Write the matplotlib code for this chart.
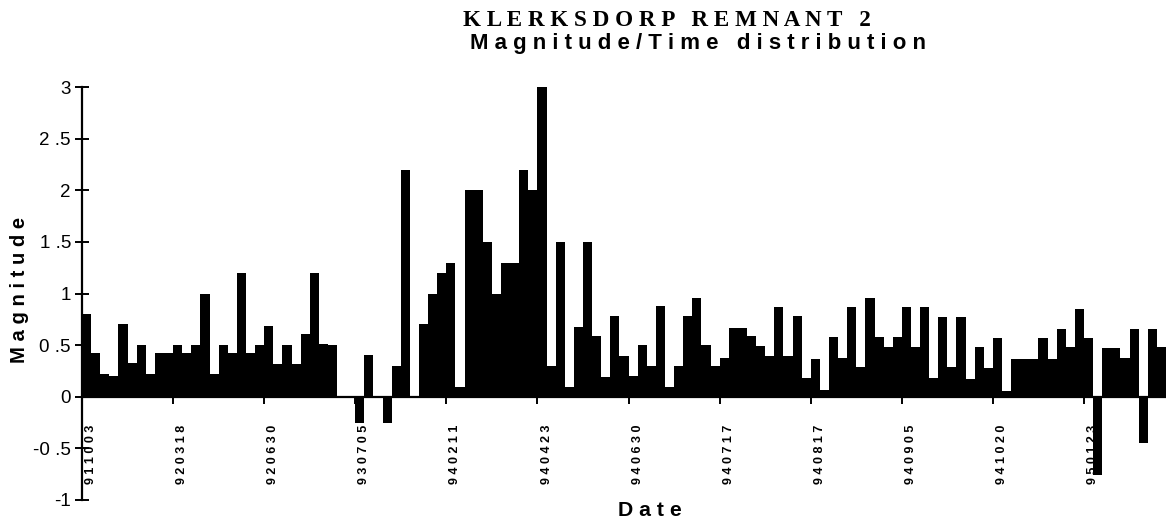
import matplotlib
matplotlib.use('Agg')
import matplotlib.pyplot as plt
import numpy as np

# ---- data ----
magnitudes = [
    0.80, 0.42, 0.22, 0.20, 0.70, 0.33, 0.50, 0.22, 0.42, 0.42,   # 0-9
    0.50, 0.42, 0.50, 1.00, 0.22, 0.50, 0.42, 1.20, 0.42, 0.50,   # 10-19
    0.69, 0.32, 0.50, 0.32, 0.61, 1.20, 0.51, 0.50, 0.00, 0.00,   # 20-29
    -0.25, 0.40, 0.00, -0.25, 0.30, 2.20, 0.00, 0.70, 1.00, 1.20, # 30-39
    1.30, 0.09, 2.00, 2.00, 1.50, 1.00, 1.30, 1.30, 2.20, 2.00,   # 40-49
    3.00, 0.30, 1.50, 0.09, 0.68, 1.50, 0.59, 0.19, 0.78, 0.39,   # 50-59
    0.20, 0.50, 0.30, 0.88, 0.09, 0.30, 0.78, 0.96, 0.50, 0.30,   # 60-69
    0.38, 0.67, 0.67, 0.59, 0.49, 0.39, 0.87, 0.39, 0.78, 0.18,   # 70-79
    0.37, 0.07, 0.58, 0.38, 0.87, 0.29, 0.96, 0.58, 0.48, 0.58,   # 80-89
    0.87, 0.48, 0.87, 0.18, 0.77, 0.29, 0.77, 0.17, 0.48, 0.28,   # 90-99
    0.57, 0.06, 0.37, 0.37, 0.37, 0.57, 0.37, 0.66, 0.48, 0.85,   # 100-109
    0.57, -0.76, 0.47, 0.47, 0.38, 0.66, -0.45, 0.66, 0.48,       # 110-118
]
tick_dates = ['911003', '920318', '920630', '930705', '940211', '940423',
              '940630', '940717', '940817', '940905', '941020', '950123']
tick_every = 10
y_ticks = [-1, -0.5, 0, 0.5, 1, 1.5, 2, 2.5, 3]

title1 = 'KLERKSDORP REMNANT 2'
title2 = 'Magnitude/Time distribution'
xlabel = 'Date'
ylabel = 'Magnitude'

# ---- figure ----
W, H = 1166, 522
fig = plt.figure(figsize=(W / 100, H / 100), dpi=100)
ax = fig.add_axes([82 / W, 1 - 500 / H, 1084 / W, 413 / H])

x = np.arange(len(magnitudes))
ax.bar(x, magnitudes, width=1.0, color='black', linewidth=0, zorder=3)

ax.set_xlim(-0.5, len(magnitudes) - 0.5)
ax.set_ylim(-1, 3)
for s in ['top', 'right']:
    ax.spines[s].set_visible(False)
ax.spines['bottom'].set_position(('data', 0))
ax.spines['bottom'].set_linewidth(1.6)
ax.spines['left'].set_linewidth(1.6)


def ylab(v):
    if float(v).is_integer():
        return str(int(v))
    s = f'{v:.1f}'
    a, b = s.split('.')
    return f'{a} .{b}'


ax.set_yticks(y_ticks)
ax.set_yticklabels([ylab(v) for v in y_ticks], fontsize=13.5, family='Liberation Sans')
ax.tick_params(axis='y', direction='inout', length=10, width=1.4, pad=3)

tick_idx = np.arange(0, len(magnitudes), tick_every)
ax.set_xticks(tick_idx - 0.5)
ax.set_xticklabels([])
ax.tick_params(axis='x', which='major', direction='out', length=5, width=1.4)
ax.set_xticks(tick_idx + 0.5, minor=True)
ax.set_xticklabels([' '.join(d) for d in tick_dates], minor=True, rotation=90,
                   fontsize=9, family='Liberation Sans', fontweight='bold')
ax.tick_params(axis='x', which='minor', length=0, pad=20)

renderer = fig.canvas.get_renderer()


def fit(t, target, vertical=False):
    for _ in range(3):
        bb = t.get_window_extent(renderer)
        w = bb.height if vertical else bb.width
        t.set_fontsize(t.get_fontsize() * target / w)


t1 = fig.text(667 / W, 1 - 20 / H, ' '.join(title1), ha='center', va='center',
              family='Liberation Serif', fontweight='bold', fontsize=14)
fit(t1, 411)
t2 = fig.text(698 / W, 1 - 43 / H, ' '.join(title2), ha='center', va='center',
              family='Liberation Sans', fontweight='bold', fontsize=13)
fit(t2, 457)
tx = fig.text(650 / W, 1 - 510 / H, ' '.join(xlabel), ha='center', va='center',
              family='Liberation Sans', fontweight='bold', fontsize=14)
fit(tx, 64)
ty = fig.text(20 / W, 1 - 290 / H, ' '.join(ylabel), ha='center', va='center', rotation=90,
              family='Liberation Sans', fontweight='bold', fontsize=13)
fit(ty, 146, vertical=True)

fig.savefig('out.png', dpi=100)
